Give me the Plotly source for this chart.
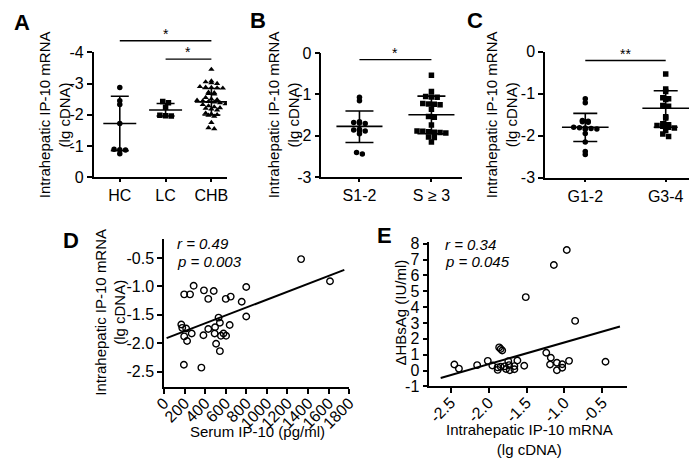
import numpy as np
import plotly.graph_objects as go

# ---------------- data ----------------
# Panel A (lg cDNA, reversed axis)
a_cats = ["HC", "LC", "CHB"]
a_hc = [-2.87, -2.45, -2.33, -1.72, -0.89, -0.88, -0.87, -0.75]
a_lc = [-2.42, -2.38, -2.24, -1.98, -1.97, -1.96]
a_chb = [-3.45, -3.08, -3.05, -3.02, -3.0, -2.9, -2.88, -2.87, -2.86, -2.85,
         -2.72, -2.7, -2.68, -2.66, -2.55, -2.5, -2.48, -2.46, -2.44, -2.42,
         -2.4, -2.38, -2.35, -2.32, -2.28, -2.25, -2.22, -2.2, -2.18, -2.15,
         -2.05, -2.02, -2.0, -1.98, -1.95, -1.75, -1.58, -1.55]
a_means = [-1.72, -2.15, -2.41]
a_wlo = [-2.59, -2.36, -2.84]
a_whi = [-0.85, -1.96, -1.99]

# Panel B
b_cats = ["S1-2", "S \u2265 3"]
b_s12 = [-1.07, -1.15, -1.66, -1.68, -1.69, -1.70, -1.84, -1.86, -1.87, -1.88, -1.95, -2.40, -2.44]
b_s3 = [-0.54, -0.93, -1.05, -1.06, -1.07, -1.22, -1.23, -1.24, -1.25, -1.36, -1.53,
        -1.55, -1.74, -1.88, -1.89, -1.90, -1.91, -1.92, -1.93, -2.03, -2.04, -2.15]
b_means = [-1.77, -1.49]
b_wlo = [-2.16, -1.95]
b_whi = [-1.40, -1.04]

# Panel C
c_cats = ["G1-2", "G3-4"]
c_g12 = [-1.12, -1.22, -1.64, -1.66, -1.67, -1.68, -1.80, -1.81, -1.82, -1.83,
         -1.84, -1.85, -1.95, -2.15, -2.38, -2.45]
c_g34 = [-0.53, -0.89, -0.95, -1.10, -1.12, -1.14, -1.28, -1.30, -1.55, -1.58,
         -1.72, -1.74, -1.76, -1.78, -1.80, -1.82, -1.88, -1.96, -2.02]
c_means = [-1.80, -1.35]
c_wlo = [-2.14, -1.80]
c_whi = [-1.47, -0.93]

# Panel D: serum IP-10 vs intrahepatic IP-10 mRNA
d_x = [1332, 1613, 196, 253, 288, 388, 483, 430, 600, 648, 799, 755, 799, 530, 543,
       638, 168, 177, 215, 430, 496, 196, 224, 269, 383, 492, 578, 553, 603, 506,
       543, 193, 363]
d_y = [-0.52, -0.91, -1.14, -1.14, -0.99, -1.07, -1.08, -1.22, -1.22, -1.18, -1.01,
       -1.27, -1.53, -1.55, -1.64, -1.68, -1.67, -1.73, -1.74, -1.75, -1.72, -1.88,
       -1.96, -1.83, -1.86, -1.83, -1.83, -1.87, -1.87, -2.01, -2.14, -2.38, -2.43]
d_fit_x = [25, 1752]
d_fit_y = [-1.91, -0.71]

# Panel E: intrahepatic IP-10 mRNA vs delta HBsAg
e_x = [-0.97, -1.14, -1.51, -0.86, -0.46, -2.45, -2.39, -2.15, -2.01, -1.95, -1.86,
       -1.84, -1.82, -1.88, -1.88, -1.84, -1.79, -1.74, -1.73, -1.72, -1.66, -1.66,
       -1.62, -1.53, -1.24, -1.18, -1.19, -1.10, -1.10, -1.03, -1.03, -0.94, -1.77]
e_y = [7.6, 6.66, 4.63, 3.13, 0.55, 0.38, 0.12, 0.34, 0.61, 0.32, 1.46, 1.36, 1.26,
       0.2, 0.04, 0.24, 0.26, 0.59, 0.34, 0.02, 0.08, 0.28, 0.63, 0.3, 1.12, 0.81,
       0.38, 0.49, 0.02, 0.4, 0.18, 0.61, 0.1]
e_fit_x = [-2.63, -0.27]
e_fit_y = [-0.47, 2.78]

# ---------------- helpers ----------------
W, H = 698, 466
FONT = "Arial, Liberation Sans, sans-serif"
FS = 16
FT = 15


def px_x(p):
    return p / W


def px_y(p):
    return 1 - p / H


def swarm(vals, bin_h, dx):
    vals = np.asarray(vals, dtype=float)
    offs = np.zeros(len(vals))
    bins = np.round(vals / bin_h)
    for b in np.unique(bins):
        idx = np.where(bins == b)[0]
        n = len(idx)
        offs[idx] = (np.arange(n) - (n - 1) / 2) * dx
    return offs


fig = go.Figure()


def dot_panel(groups, symbols, means, wlo, whi, xa, ya, bin_h, dx, half, cap):
    for i, (vals, sym) in enumerate(zip(groups, symbols)):
        offs = swarm(vals, bin_h, dx)
        fig.add_trace(go.Scatter(
            x=i + offs, y=vals, mode="markers", xaxis=xa, yaxis=ya,
            marker=dict(symbol=sym, size=5.5, color="black", line=dict(width=0)),
            showlegend=False, hoverinfo="skip"))
        fig.add_trace(go.Scatter(
            x=[i - half, i + half], y=[means[i], means[i]], mode="lines",
            xaxis=xa, yaxis=ya, line=dict(color="black", width=1.6),
            showlegend=False, hoverinfo="skip"))
        hi = max(wlo[i], whi[i])
        lo = min(wlo[i], whi[i])
        fig.add_trace(go.Scatter(
            x=[i], y=[means[i]], mode="markers", xaxis=xa, yaxis=ya,
            marker=dict(size=1, color="rgba(0,0,0,0)"),
            error_y=dict(type="data", symmetric=False, array=[hi - means[i]],
                         arrayminus=[means[i] - lo], color="black",
                         thickness=1.6, width=cap),
            showlegend=False, hoverinfo="skip"))


dot_panel([a_hc, a_lc, a_chb], ["circle", "square", "triangle-up"],
          a_means, a_wlo, a_whi, "x", "y", 0.12, 0.125, 0.36, 9)
dot_panel([b_s12, b_s3], ["circle", "square"],
          b_means, b_wlo, b_whi, "x2", "y2", 0.09, 0.08, 0.32, 14)
dot_panel([c_g12, c_g34], ["circle", "square"],
          c_means, c_wlo, c_whi, "x3", "y3", 0.09, 0.072, 0.29, 12)

# Panel D
fig.add_trace(go.Scatter(x=d_x, y=d_y, mode="markers", xaxis="x4", yaxis="y4",
                         marker=dict(symbol="circle-open", size=6.5, color="black",
                                     line=dict(width=1.4)),
                         showlegend=False, hoverinfo="skip"))
fig.add_trace(go.Scatter(x=d_fit_x, y=d_fit_y, mode="lines", xaxis="x4", yaxis="y4",
                         line=dict(color="black", width=2), showlegend=False,
                         hoverinfo="skip"))
# Panel E
fig.add_trace(go.Scatter(x=e_x, y=e_y, mode="markers", xaxis="x5", yaxis="y5",
                         marker=dict(symbol="circle-open", size=6.5, color="black",
                                     line=dict(width=1.4)),
                         showlegend=False, hoverinfo="skip"))
fig.add_trace(go.Scatter(x=e_fit_x, y=e_fit_y, mode="lines", xaxis="x5", yaxis="y5",
                         line=dict(color="black", width=2), showlegend=False,
                         hoverinfo="skip"))

ax_common = dict(showline=True, linecolor="black", linewidth=1.5, ticks="outside",
                 tickcolor="black", tickwidth=1.5, showgrid=False, zeroline=False,
                 tickfont=dict(family=FONT, size=FS, color="black"))


def cat_axis(dom, rng, cats):
    return dict(ax_common, domain=dom, range=rng, tickvals=list(range(len(cats))),
                ticktext=cats, ticklen=3)


def num_axis(dom, rng, vals, fmt):
    return dict(ax_common, domain=dom, range=rng, tickvals=vals,
                ticktext=[fmt.format(v).replace("\u2212", "-") for v in vals], ticklen=5)


fig.update_layout(
    width=W, height=H, margin=dict(l=0, r=0, t=0, b=0),
    paper_bgcolor="white", plot_bgcolor="white",
    font=dict(family=FONT, size=FS, color="black"),
    xaxis=dict(cat_axis([px_x(85), px_x(222)], [-0.57, 2.34], a_cats), anchor="y"),
    yaxis=dict(num_axis([px_y(175.5), px_y(46)], [0, -4], [0, -1, -2, -3, -4], "{:.0f}"),
               anchor="x"),
    xaxis2=dict(cat_axis([px_x(319), px_x(464)], [-0.53, 1.43], b_cats), anchor="y2"),
    yaxis2=dict(num_axis([px_y(175.7), px_y(46.7)], [-3, 0], [0, -1, -2, -3], "{:.0f}"),
                anchor="x2"),
    xaxis3=dict(cat_axis([px_x(549), px_x(697)], [-0.5, 1.29], c_cats), anchor="y3"),
    yaxis3=dict(num_axis([px_y(176), px_y(45.3)], [-3, 0], [0, -1, -2, -3], "{:.0f}"),
                anchor="x3"),
    xaxis4=dict(num_axis([px_x(157.3), px_x(347.7)], [0, 1800],
                         [0, 200, 400, 600, 800, 1000, 1200, 1400, 1600, 1800], "{:.0f}"),
                anchor="y4", tickangle=-45, ticklabelstandoff=-6),
    yaxis4=dict(num_axis([px_y(393.3), px_y(240)], [-2.77, -0.17],
                         [-0.5, -1.0, -1.5, -2.0, -2.5], "{:.1f}"), anchor="x4"),
    xaxis5=dict(num_axis([px_x(430), px_x(633)], [-2.78, -0.18],
                         [-2.5, -2.0, -1.5, -1.0, -0.5], "{:.1f}"),
                anchor="y5", tickangle=-45, ticklabelstandoff=-6),
    yaxis5=dict(num_axis([px_y(392.7), px_y(243)], [-1, 8.1],
                         [-1, 0, 1, 2, 3, 4, 5, 6, 7, 8], "{:.0f}"), anchor="x5"),
)

# significance bars (x in data units, y in paper units since some lie above the axis)
shapes = []
anns = []
sig = [("x", 0, 2, 34, "*"), ("x", 1, 2, 53, "*"),
       ("x2", 0, 1, 53.5, "*"), ("x3", 0, 1, 54.5, "**")]
for xa, x0, x1, ypx, txt in sig:
    shapes.append(dict(type="line", xref=xa, yref="paper", x0=x0, x1=x1,
                       y0=px_y(ypx), y1=px_y(ypx),
                       line=dict(color="black", width=1.3)))
    anns.append(dict(x=(x0 + x1) / 2, y=px_y(ypx), xref=xa, yref="paper", text=txt,
                     showarrow=False, yanchor="bottom", yshift=-3,
                     font=dict(family=FONT, size=14)))

# panel letters
for lbl, x, y in [("A", 11, 15), ("B", 254, 13), ("C", 477, 13), ("D", 62, 241), ("E", 384, 236)]:
    anns.append(dict(x=px_x(x), y=px_y(y), xref="paper", yref="paper", text="<b>%s</b>" % lbl,
                     showarrow=False, xanchor="center", yanchor="middle",
                     font=dict(family=FONT, size=22, color="black")))

ytitle = "Intrahepatic IP-10 mRNA<br>(lg cDNA)"
for x, y in [(45, 110.5), (281, 111), (505, 111), (102, 316)]:
    anns.append(dict(x=px_x(x), y=px_y(y), xref="paper", yref="paper", text=ytitle,
                     textangle=-90, showarrow=False, xanchor="center", yanchor="middle",
                     font=dict(family=FONT, size=FT)))
anns.append(dict(x=px_x(400), y=px_y(316), xref="paper", yref="paper",
                 text="\u0394HBsAg (IU/ml)", textangle=-90, showarrow=False,
                 xanchor="center", yanchor="middle", font=dict(family=FONT, size=FT)))
anns.append(dict(x=px_x(253), y=px_y(440), xref="paper", yref="paper",
                 text="Serum IP-10 (pg/ml)", showarrow=False, xanchor="center",
                 yanchor="middle", font=dict(family=FONT, size=FT)))
anns.append(dict(x=px_x(533), y=px_y(448), xref="paper", yref="paper",
                 text="Intrahepatic IP-10 mRNA<br>(lg cDNA)", showarrow=False,
                 xanchor="center", yanchor="middle", font=dict(family=FONT, size=FT)))

# statistics
for txt, x, y in [("<i>r = 0.49</i>", 169, 244), ("<i>p = 0.003</i>", 169, 263),
                  ("<i>r = 0.34</i>", 444, 245), ("<i>p = 0.045</i>", 444, 263)]:
    anns.append(dict(x=px_x(x), y=px_y(y), xref="paper", yref="paper", text=txt,
                     showarrow=False, xanchor="left", yanchor="middle",
                     font=dict(family=FONT, size=FT)))

fig.update_layout(shapes=shapes, annotations=anns)
fig.write_html("out.html", config={"displayModeBar": False},
               post_script="document.body.style.margin='0';document.body.style.overflow='hidden';")
